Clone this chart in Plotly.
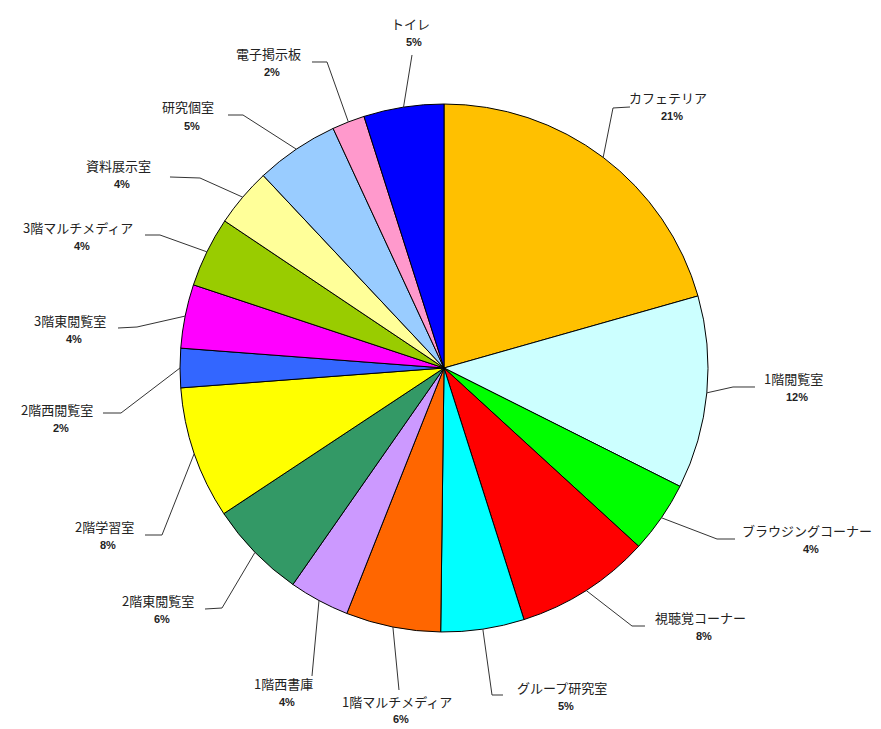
import math
import plotly.graph_objects as go

# ---- data ----
labels = ["カフェテリア", "1階閲覧室", "ブラウジングコーナー", "視聴覚コーナー", "グループ研究室",
          "1階マルチメディア", "1階西書庫", "2階東閲覧室", "2階学習室", "2階西閲覧室",
          "3階東閲覧室", "3階マルチメディア", "資料展示室", "研究個室", "電子掲示板", "トイレ"]
values = [20.6, 11.8, 4.4, 8.3, 5.1, 5.8, 3.7, 6.0, 8.1, 2.4, 3.9, 4.3, 3.6, 5.1, 2.0, 4.9]

# ---- styles / layout ----
colors = ["#FFC000", "#CCFFFF", "#00FF00", "#FF0000", "#00FFFF", "#FF6600", "#CC99FF", "#339966",
          "#FFFF00", "#3366FF", "#FF00FF", "#99CC00", "#FFFF99", "#99CCFF", "#FF99CC", "#0000FF"]

W, H = 881, 729
OFF = 8  # page body margin
CX, CY, R = 444, 368, 264  # pie centre / radius in screen pixels

# label (name line) centres in screen pixels
name_xy = [(668, 97), (793, 378), (807, 530), (700, 617), (562, 687), (397, 701), (283, 683),
           (158, 600), (104, 526), (57, 409), (70, 320), (78, 227), (118, 165), (188, 107),
           (268, 53), (410, 23)]
pct_dy = [19, 19, 19, 19, 19, 18, 19, 19, 19, 19, 19, 19, 19, 19, 19, 19]
# leader-line points after the slice-edge point (screen pixels)
leader_pts = [
    [(613, 108), (630, 107)],
    [(733, 387), (755, 387)],
    [(717, 539), (735, 539)],
    [(632, 626), (645, 626)],
    [(492, 695), (503, 695)],
    [(399, 690)],
    [(312, 676)],
    [(222, 608), (205, 609)],
    [(162, 535), (145, 535)],
    [(121, 413), (103, 413)],
    [(137, 327), (118, 328)],
    [(160, 235), (145, 235)],
    [(200, 178), (170, 177)],
    [(243, 115), (228, 115)],
    [(327, 62), (312, 62)],
    [(412, 55)],
]


def px(x):
    return (x - OFF) / W


def py(y):
    return 1 - (y - OFF) / H


fig = go.Figure(go.Pie(
    labels=labels, values=values, sort=False, direction="clockwise", rotation=0,
    marker=dict(colors=colors, line=dict(color="#000000", width=1)),
    textinfo="none", hoverinfo="label+percent", showlegend=False,
    domain=dict(x=[px(CX - R), px(CX + R)], y=[py(CY + R), py(CY - R)]),
))

total = sum(values)
shapes = []
annotations = []
cum = 0.0
for i, (lab, v) in enumerate(zip(labels, values)):
    mid = (cum + v / 2) / total * 2 * math.pi
    cum += v
    ex = CX + R * math.sin(mid)
    ey = CY - R * math.cos(mid)
    pts = [(ex, ey)] + leader_pts[i]
    path = "M " + " L ".join(f"{px(a):.5f},{py(b):.5f}" for a, b in pts)
    shapes.append(dict(type="path", xref="paper", yref="paper", path=path,
                       line=dict(color="#333333", width=1)))
    nx, ny = name_xy[i]
    annotations.append(dict(x=px(nx), y=py(ny), xref="paper", yref="paper", text=lab,
                            showarrow=False, xanchor="center", yanchor="middle",
                            font=dict(family="Noto Sans CJK JP", size=13, color="#222222")))
    annotations.append(dict(x=px(nx + 4), y=py(ny + pct_dy[i]), xref="paper", yref="paper",
                            text=f"<b>{round(v / total * 100)}%</b>",
                            showarrow=False, xanchor="center", yanchor="middle",
                            font=dict(family="Liberation Sans", size=11, color="#222222")))

fig.update_layout(width=W, height=H, margin=dict(l=0, r=0, t=0, b=0),
                  paper_bgcolor="white", plot_bgcolor="white",
                  shapes=shapes, annotations=annotations)

fig.write_html("out.html")
